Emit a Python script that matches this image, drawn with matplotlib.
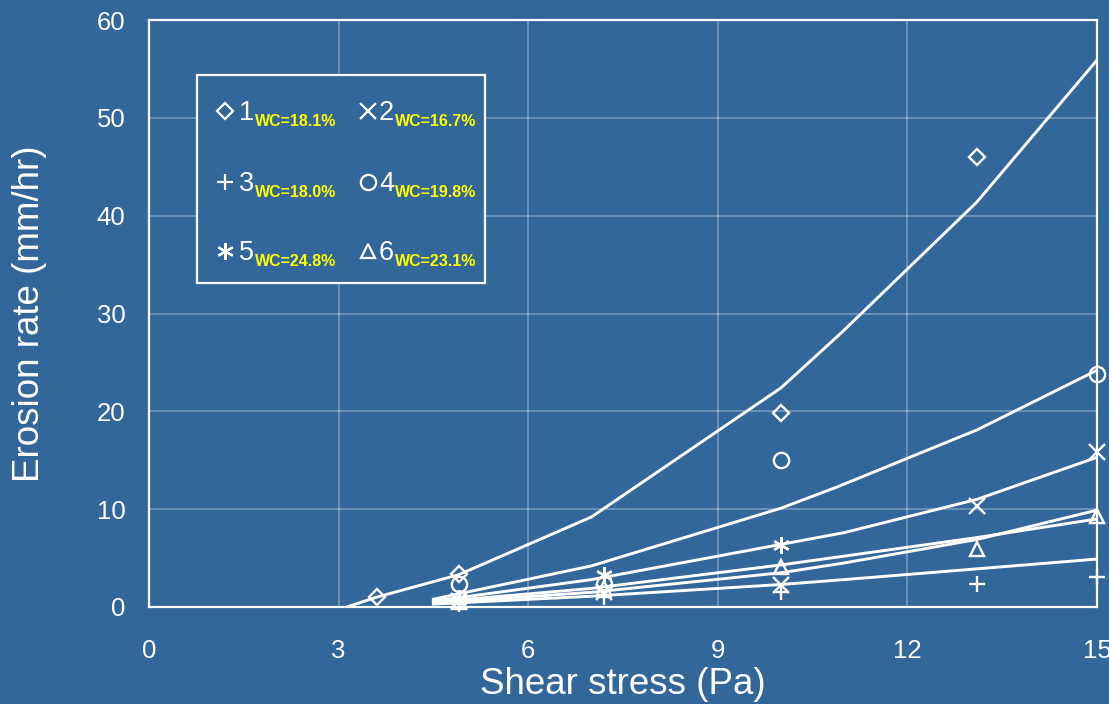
import matplotlib
matplotlib.use("Agg")
import matplotlib.pyplot as plt
from matplotlib.patches import Rectangle

# ---------------- data ----------------
# measured points (x = shear stress Pa, y = erosion rate mm/hr)
s1_x = [3.6, 4.9, 10.0, 13.1]
s1_y = [1.0, 3.4, 19.8, 46.0]
s2_x = [4.9, 7.2, 10.0, 13.1, 15.0]
s2_y = [0.6, 1.5, 2.2, 10.3, 15.8]
s3_x = [4.9, 7.2, 10.0, 13.1, 15.0]
s3_y = [0.3, 1.0, 1.5, 2.3, 3.1]
s4_x = [4.9, 7.2, 10.0, 15.0]
s4_y = [2.3, 2.4, 15.0, 23.8]
s5_x = [4.9, 7.2, 10.0]
s5_y = [0.9, 3.3, 6.3]
s6_x = [4.9, 7.2, 10.0, 13.1, 15.0]
s6_y = [0.5, 1.9, 4.1, 5.9, 9.3]

# model curves
c1_x = [3.13, 3.6, 4.9, 7.0, 10.0, 10.95, 13.1, 15.0]
c1_y = [0.0, 1.0, 3.3, 9.2, 22.4, 28.0, 41.4, 55.9]
c4_x = [4.5, 7.0, 10.0, 10.9, 13.1, 15.0]
c4_y = [0.8, 4.2, 10.1, 12.3, 18.1, 24.2]
c2_x = [4.5, 7.0, 10.0, 11.0, 13.1, 15.0]
c2_y = [0.6, 2.8, 6.4, 7.6, 11.0, 15.3]
c5_x = [4.5, 7.0, 10.0, 11.0, 13.1, 15.0]
c5_y = [0.5, 1.9, 4.3, 5.2, 7.1, 9.0]
c6_x = [4.5, 7.0, 10.0, 11.0, 13.1, 15.0]
c6_y = [0.4, 1.5, 3.5, 4.5, 6.9, 9.9]
c3_x = [4.5, 7.0, 10.0, 11.0, 13.1, 15.0]
c3_y = [0.3, 1.1, 2.3, 2.8, 3.9, 4.9]

x_ticks = [0, 3, 6, 9, 12, 15]
y_ticks = [0, 10, 20, 30, 40, 50, 60]

legend_nums = ["1", "2", "3", "4", "5", "6"]
legend_wc = ["WC=18.1%", "WC=16.7%", "WC=18.0%", "WC=19.8%", "WC=24.8%", "WC=23.1%"]
legend_markers = ["D", "x", "+", "o", (6, 2, 0), "^"]

# ---------------- style ----------------
BG = "#336699"
W = 1109
H = 704
plt.rcParams['font.family'] = ['Liberation Sans', 'DejaVu Sans']

fig = plt.figure(figsize=(W / 100, H / 100), dpi=100, facecolor=BG)
ax = fig.add_axes([149 / W, (H - 607) / H, (1097 - 149) / W, (607 - 20) / H])
ax.set_facecolor(BG)
ax.set_xlim(0, 15)
ax.set_ylim(0, 60)
ax.set_xticks(x_ticks)
ax.set_yticks(y_ticks)
ax.tick_params(length=0, colors="white", labelsize=18.5)
ax.tick_params(axis="x", pad=23)
ax.tick_params(axis="y", pad=17)
for sp in ax.spines.values():
    sp.set_color("white")
    sp.set_linewidth(1.6)
ax.grid(True, color="white", alpha=0.3, linewidth=1.3)
ax.set_axisbelow(True)

lw = 2.1
for cx, cy in [(c1_x, c1_y), (c4_x, c4_y), (c2_x, c2_y), (c5_x, c5_y), (c6_x, c6_y), (c3_x, c3_y)]:
    ax.plot(cx, cy, color="white", lw=lw, zorder=3)

mk = dict(linestyle="none", markerfacecolor="none", markeredgecolor="white",
          markeredgewidth=1.7, zorder=4, clip_on=False)
ax.plot(s1_x, s1_y, marker="D", ms=8, **mk)
ax.plot(s2_x, s2_y, marker="x", ms=11, **mk)
ax.plot(s3_x, s3_y, marker="+", ms=12, **mk)
ax.plot(s4_x, s4_y, marker="o", ms=11, **mk)
ax.plot(s5_x, s5_y, marker=(6, 2, 0), ms=12, **mk)
ax.plot(s6_x, s6_y, marker="^", ms=10, **mk)

ax.set_xlabel("Shear stress (Pa)", color="white", fontsize=26.5, labelpad=0)
ax.xaxis.set_label_coords(0.5, (607 - 685) / (607 - 20))
ax.set_ylabel("Erosion rate (mm/hr)", color="white", fontsize=26.5)
ax.yaxis.set_label_coords((30 - 149) / (1097 - 149), 0.5)
ax.xaxis.label.set_va("center")
ax.yaxis.label.set_va("center")

# ---------------- legend (drawn manually) ----------------
def fpx(x, y):
    return (x / W, 1 - y / H)

x0, y0 = fpx(197, 75)
x1, y1 = fpx(485, 283)
fig.patches.append(Rectangle((x0, y1), x1 - x0, y0 - y1, transform=fig.transFigure,
                             facecolor=BG, edgecolor="white", linewidth=1.6, zorder=5))
cols = [225, 368]
num_x = [239, 379]
rows = [111, 182, 251]
for i in range(6):
    r, c = divmod(i, 2)
    mx, my = fpx(cols[c], rows[r])
    msz = {"D": 8, "x": 12, "+": 12, "o": 11, "^": 10}.get(legend_markers[i], 12)
    fig.add_artist(plt.Line2D([mx], [my], transform=fig.transFigure, marker=legend_markers[i],
                              ms=msz, markerfacecolor="none", markeredgecolor="white",
                              markeredgewidth=1.6, linestyle="none", zorder=6))
    tx, ty = fpx(num_x[c], rows[r] + 9)
    fig.text(tx, ty, legend_nums[i], color="white", fontsize=19.5, ha="left", va="baseline", zorder=6)
    sx, sy = fpx(num_x[c] + 16, rows[r] + 15)
    fig.text(sx, sy, legend_wc[i], color="#FFFF00", fontsize=11.5, fontweight="bold",
             ha="left", va="baseline", zorder=6)

fig.savefig("out.png", dpi=100, facecolor=BG)
